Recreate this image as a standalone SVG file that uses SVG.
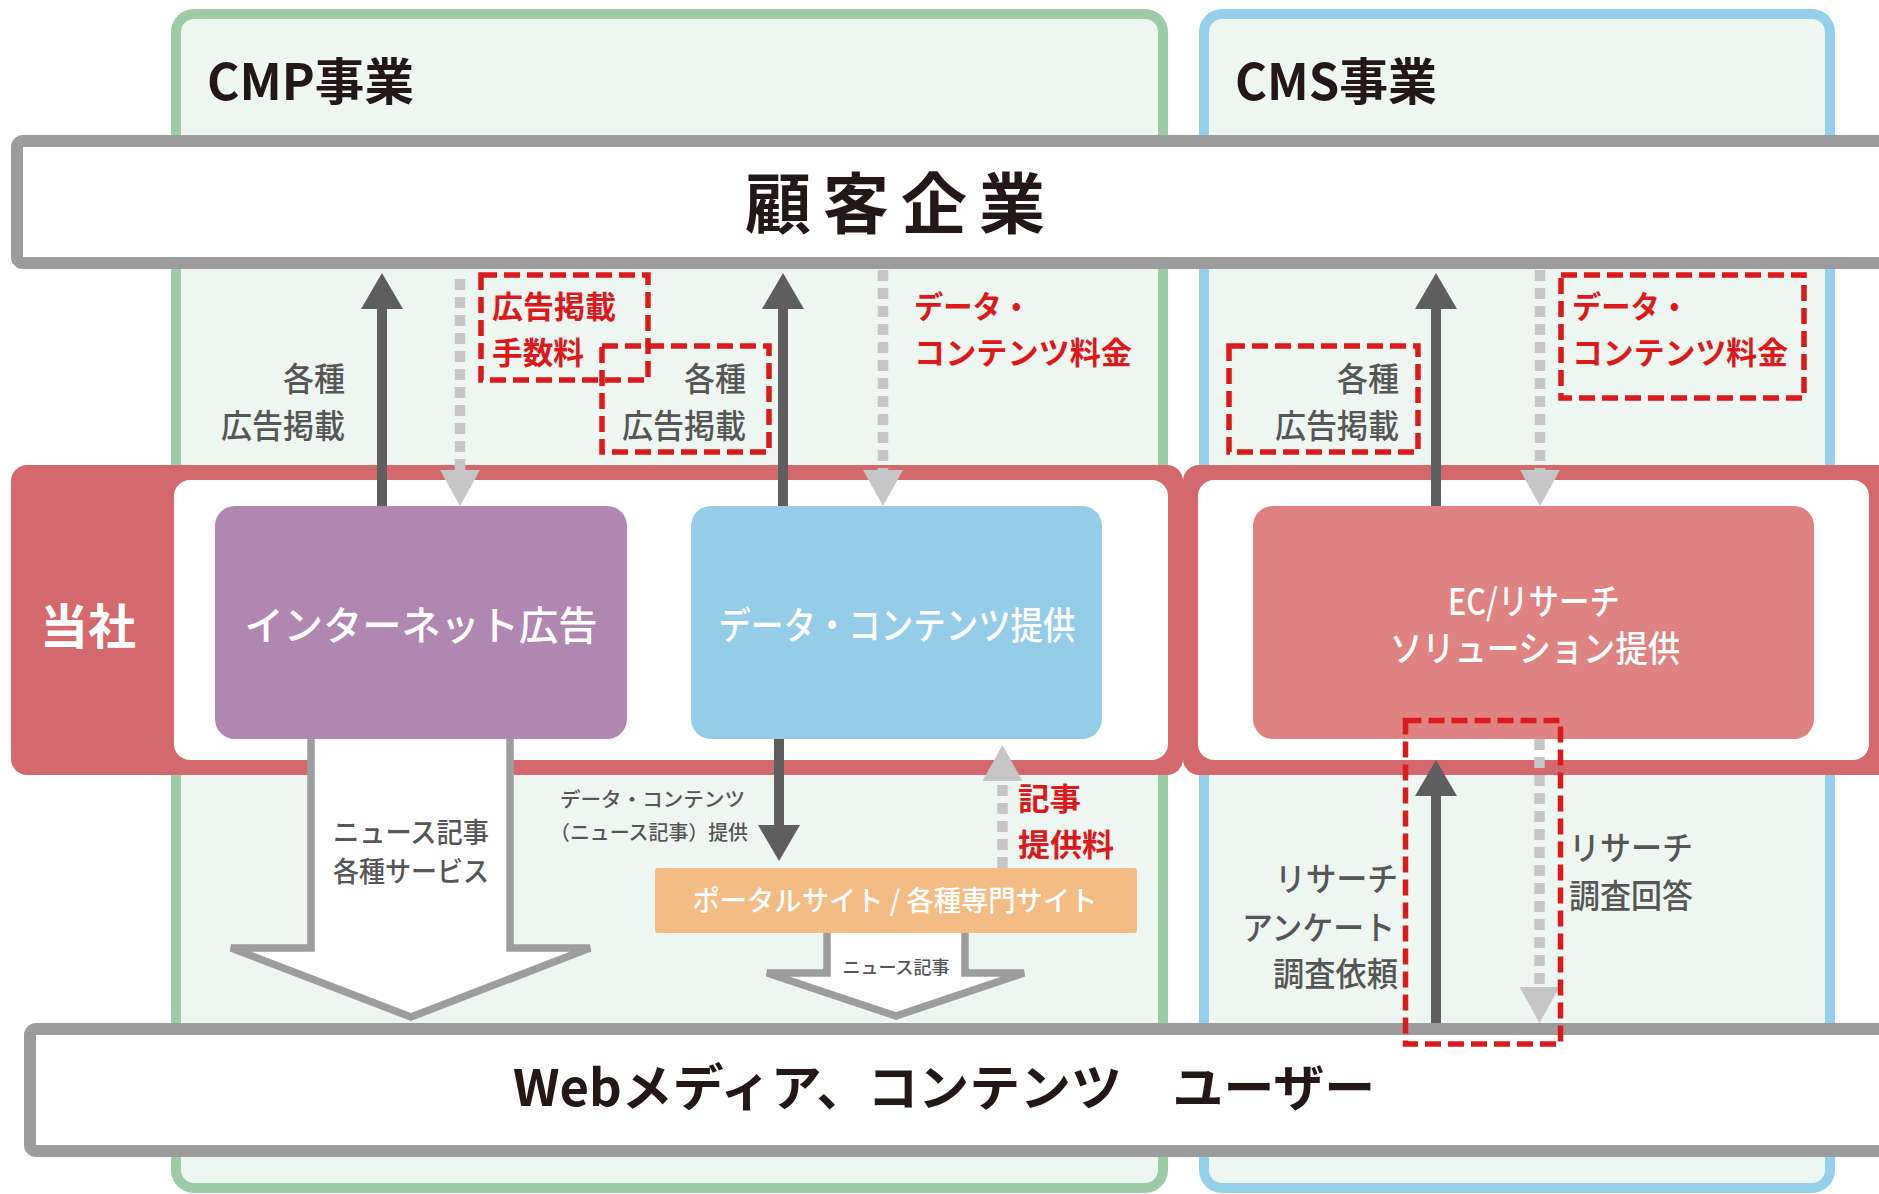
<svg xmlns="http://www.w3.org/2000/svg" width="1879" height="1194" viewBox="0 0 1879 1194">
<defs>
<style>
.t{font-family:'Noto Sans CJK JP','Noto Sans',sans-serif;}
.title{font-size:50px;font-weight:700;fill:#231815;}
.bar{fill:#ffffff;stroke:#9c9c9c;stroke-width:12;}
.seg{fill:#edf6f1;stroke-width:10;}
.lbl{font-size:33px;font-weight:500;fill:#565656;}
.red{font-size:31px;font-weight:700;fill:#dc1a1d;}
.wht{font-weight:500;fill:#ffffff;}
.dark{stroke:#5e5e5e;stroke-width:10;fill:none;}
.light{stroke:#c6c6c6;stroke-width:10.5;fill:none;stroke-dasharray:11 7;}
.rbox{fill:none;stroke:#dc1a1d;stroke-width:5.5;stroke-dasharray:16 7;}
.hollow{fill:#ffffff;stroke:none;}
.hollowline{fill:none;stroke:#9d9d9d;stroke-width:7.5;stroke-linejoin:miter;}
</style>
<marker id="hd" markerUnits="userSpaceOnUse" markerWidth="36" markerHeight="42" viewBox="0 0 36 42" refX="0" refY="21" orient="auto">
<path d="M0,0 L36,21 L0,42 Z" fill="#5e5e5e"/>
</marker>
<marker id="hl" markerUnits="userSpaceOnUse" markerWidth="36" markerHeight="40" viewBox="0 0 36 40" refX="0" refY="20" orient="auto">
<path d="M0,0 L36,20 L0,40 Z" fill="#c6c6c6"/>
</marker>
</defs>
<rect width="1879" height="1194" fill="#ffffff"/>

<g id="cmp-segment">
<rect class="seg" x="176" y="14" width="987" height="1174" rx="18" stroke="#9dcba6"/>
<text class="t title" x="207" y="100" textLength="207" lengthAdjust="spacingAndGlyphs">CMP事業</text>
</g>
<g id="cms-segment">
<rect class="seg" x="1204" y="14" width="626" height="1174" rx="18" stroke="#95cfe9"/>
<text class="t title" x="1235" y="100" textLength="202" lengthAdjust="spacingAndGlyphs">CMS事業</text>
</g>

<g id="customer">
<rect class="bar" x="17" y="141" width="1875" height="122" rx="6"/>
<text class="t" x="901" y="228" font-size="66" font-weight="700" fill="#231815" letter-spacing="12" text-anchor="middle">顧客企業</text>
</g>

<g id="company">
<rect x="11" y="465" width="1172" height="310" rx="16" fill="#d4696d"/>
<rect x="174" y="480" width="994" height="280" rx="16" fill="#ffffff"/>
<rect x="1183" y="465" width="712" height="310" rx="16" fill="#d4696d"/>
<rect x="1198" y="480" width="671" height="280" rx="16" fill="#ffffff"/>
<text class="t wht" x="88" y="644" style="font-size:48px;font-weight:700" text-anchor="middle">当社</text>
</g>

<g id="users">
<rect class="bar" x="30" y="1029" width="1862" height="122" rx="6"/>
<text class="t title" x="513" y="1106" textLength="862" lengthAdjust="spacingAndGlyphs">Webメディア、コンテンツ　ユーザー</text>
</g>

<g id="internet-ad">
<rect x="215" y="506" width="412" height="233" rx="20" fill="#b087b0"/>
<text class="t wht" x="421" y="640" style="font-size:40px" text-anchor="middle" textLength="353" lengthAdjust="spacingAndGlyphs">インターネット広告</text>
</g>
<g id="data-content">
<rect x="691" y="506" width="411" height="233" rx="20" fill="#95cde9"/>
<text class="t wht" x="897" y="639" style="font-size:38px" text-anchor="middle" textLength="357" lengthAdjust="spacingAndGlyphs">データ・コンテンツ提供</text>
</g>
<g id="ec-research">
<rect x="1253" y="506" width="561" height="233" rx="20" fill="#de8282"/>
<text class="t wht" x="1534" y="615" style="font-size:36px" text-anchor="middle" textLength="172" lengthAdjust="spacingAndGlyphs">EC/リサーチ</text>
<text class="t wht" x="1535" y="662" style="font-size:36px" text-anchor="middle" textLength="290" lengthAdjust="spacingAndGlyphs">ソリューション提供</text>
</g>
<g id="portal">
<rect x="655" y="868" width="482" height="65" rx="3" fill="#f4bc85"/>
<text class="t wht" x="895" y="911" style="font-size:28px" text-anchor="middle" textLength="405" lengthAdjust="spacingAndGlyphs">ポータルサイト / 各種専門サイト</text>
</g>

<g id="connectors">
<line class="dark" x1="382" y1="506" x2="382" y2="309" marker-end="url(#hd)"/>
<line class="light" x1="460" y1="279" x2="460" y2="470" marker-end="url(#hl)"/>
<line class="dark" x1="783" y1="506" x2="783" y2="309" marker-end="url(#hd)"/>
<line class="light" x1="883" y1="270" x2="883" y2="470" marker-end="url(#hl)"/>
<line class="dark" x1="1436" y1="506" x2="1436" y2="309" marker-end="url(#hd)"/>
<line class="light" x1="1540" y1="270" x2="1540" y2="470" marker-end="url(#hl)"/>
<line class="dark" x1="779" y1="739" x2="779" y2="825" marker-end="url(#hd)"/>
<line class="light" x1="1002.5" y1="868" x2="1002.5" y2="781" marker-end="url(#hl)"/>
<line class="dark" x1="1436" y1="1023" x2="1436" y2="796" marker-end="url(#hd)"/>
<line class="light" x1="1539.5" y1="739" x2="1539.5" y2="987" marker-end="url(#hl)"/>
<path class="hollow" d="M311,739 L311,948 L231,948 L411,1017 L590,948 L510,948 L510,739 Z"/>
<path class="hollowline" d="M311,739 L311,948 L231,948 L411,1017 L590,948 L510,948 L510,739"/>
<path class="hollow" d="M827,933 L827,973 L767,973 L896,1016 L1024,973 L965,973 L965,933 Z"/>
<path class="hollowline" d="M827,933 L827,973 L767,973 L896,1016 L1024,973 L965,973 L965,933"/>
</g>

<g id="labels">
<text class="t lbl" x="345" y="391" text-anchor="end" textLength="62" lengthAdjust="spacingAndGlyphs">各種</text>
<text class="t lbl" x="345" y="438" text-anchor="end" textLength="124" lengthAdjust="spacingAndGlyphs">広告掲載</text>

<rect class="rbox" x="481" y="275" width="167" height="105"/>
<text class="t red" x="492" y="318" textLength="124" lengthAdjust="spacingAndGlyphs">広告掲載</text>
<text class="t red" x="492" y="364" textLength="92" lengthAdjust="spacingAndGlyphs">手数料</text>

<rect class="rbox" x="602" y="346" width="167" height="106"/>
<text class="t lbl" x="746" y="391" text-anchor="end" textLength="62" lengthAdjust="spacingAndGlyphs">各種</text>
<text class="t lbl" x="746" y="438" text-anchor="end" textLength="124" lengthAdjust="spacingAndGlyphs">広告掲載</text>

<text class="t red" x="914" y="318" textLength="117" lengthAdjust="spacingAndGlyphs">データ・</text>
<text class="t red" x="914" y="364" textLength="218" lengthAdjust="spacingAndGlyphs">コンテンツ料金</text>

<rect class="rbox" x="1229" y="346" width="189" height="106"/>
<text class="t lbl" x="1399" y="391" text-anchor="end" textLength="62" lengthAdjust="spacingAndGlyphs">各種</text>
<text class="t lbl" x="1399" y="438" text-anchor="end" textLength="124" lengthAdjust="spacingAndGlyphs">広告掲載</text>

<rect class="rbox" x="1561" y="275" width="243" height="123"/>
<text class="t red" x="1572" y="318" textLength="117" lengthAdjust="spacingAndGlyphs">データ・</text>
<text class="t red" x="1572" y="364" textLength="216" lengthAdjust="spacingAndGlyphs">コンテンツ料金</text>

<text class="t lbl" x="411" y="843" style="font-size:28px" text-anchor="middle" textLength="156" lengthAdjust="spacingAndGlyphs">ニュース記事</text>
<text class="t lbl" x="411" y="882" style="font-size:28px" text-anchor="middle" textLength="156" lengthAdjust="spacingAndGlyphs">各種サービス</text>

<text class="t lbl" x="745" y="807" style="font-size:20px" text-anchor="end" textLength="185" lengthAdjust="spacingAndGlyphs">データ・コンテンツ</text>
<text class="t lbl" x="748" y="840" style="font-size:20px" text-anchor="end" textLength="198" lengthAdjust="spacingAndGlyphs">（ニュース記事）提供</text>

<text class="t lbl" x="896" y="974" style="font-size:18px" text-anchor="middle" textLength="107" lengthAdjust="spacingAndGlyphs">ニュース記事</text>

<text class="t red" x="1018" y="810" textLength="63" lengthAdjust="spacingAndGlyphs">記事</text>
<text class="t red" x="1018" y="856" textLength="96" lengthAdjust="spacingAndGlyphs">提供料</text>

<rect class="rbox" x="1405.5" y="720.5" width="155" height="323.5"/>
<text class="t lbl" x="1398" y="891" text-anchor="end" textLength="123" lengthAdjust="spacingAndGlyphs">リサーチ</text>
<text class="t lbl" x="1395" y="940" text-anchor="end" textLength="153" lengthAdjust="spacingAndGlyphs">アンケート</text>
<text class="t lbl" x="1398" y="986" text-anchor="end" textLength="125" lengthAdjust="spacingAndGlyphs">調査依頼</text>

<text class="t lbl" x="1569" y="860" textLength="124" lengthAdjust="spacingAndGlyphs">リサーチ</text>
<text class="t lbl" x="1569" y="908" textLength="124" lengthAdjust="spacingAndGlyphs">調査回答</text>
</g>
</svg>
